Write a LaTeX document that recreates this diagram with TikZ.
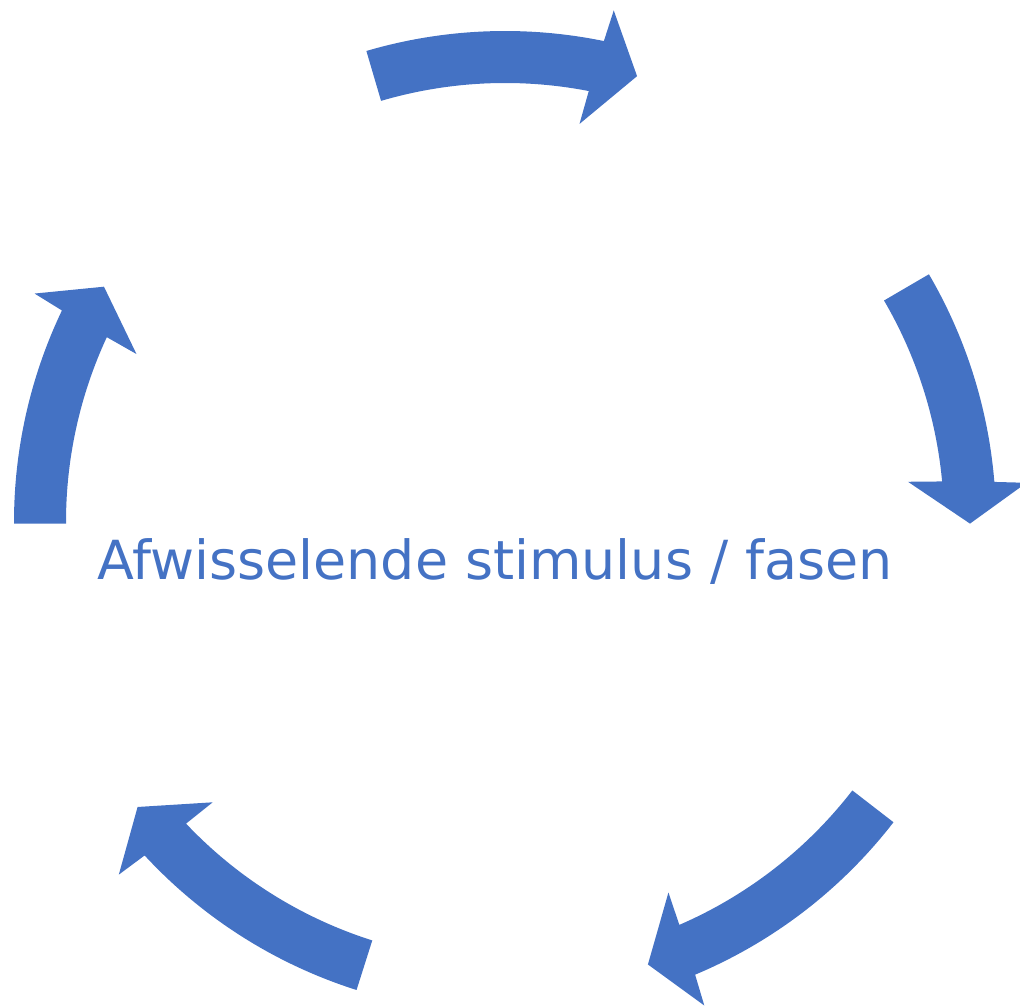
\documentclass[tikz,border=0pt]{standalone}
\usepackage{fontspec}
\setmainfont{DejaVu Sans}
\definecolor{accentblue}{HTML}{4472C4}
\tikzset{
  cyclearrow/.style={fill=accentblue, draw=none},
  centertext/.style={text=accentblue, inner sep=0pt, outer sep=0pt, anchor=base west,
    font=\fontsize{40.4pt}{48pt}\selectfont}
}
\begin{document}
\begin{tikzpicture}[x=0.75pt,y=0.75pt]
  \clip (0,0) rectangle (1020,1006);
  \useasboundingbox (0,0) rectangle (1020,1006);
  \coordinate (C) at (505,484);
  \begin{scope}[shift={(C)}]
    \foreach \t/\m/\p in {106.4/78.7/73.5, 30.3/5.0/-0.2, -37.7/-66.9/-72.1,
                          -107.6/-136.9/-142.2, 180.2/154.8/149.6}{
      \pgfmathsetmacro\mo{\m-0.32}
      \pgfmathsetmacro\mi{\m+0.3}
      \pgfmathsetmacro\bo{\m-0.7}
      \pgfmathsetmacro\bi{\m+0.7}
      \fill[cyclearrow] (\t:491) arc[start angle=\t, end angle=\mo, radius=491]
        -- (\bo:523) -- (\p:465) -- (\bi:405) -- (\mi:439)
        arc[start angle=\mi, end angle=\t, radius=439] -- cycle;
    }
  \end{scope}
  \node[centertext] (label) at (97.3,426) {Afwisselende stimulus / fasen};
\end{tikzpicture}
\end{document}
